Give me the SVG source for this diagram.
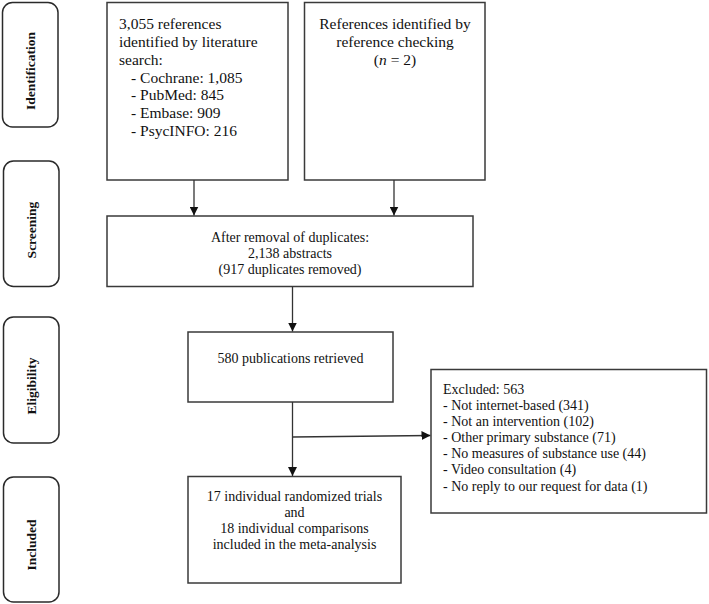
<svg xmlns="http://www.w3.org/2000/svg" width="709" height="604" viewBox="0 0 709 604">
<style>
.box{fill:#fff;stroke:#3a3a3a;stroke-width:1.5}
.side{fill:#fff;stroke:#2a2a2a;stroke-width:1.5}
.t{font-family:"Liberation Serif","Times New Roman",serif;font-size:15.5px;fill:#111}
.s{font-family:"Liberation Serif","Times New Roman",serif;font-size:14px;fill:#111}
.lab{font-family:"Liberation Serif","Times New Roman",serif;font-size:13.5px;font-weight:bold;fill:#111;text-anchor:middle;dominant-baseline:central}
.c{text-anchor:middle}
.ln{stroke:#333;stroke-width:1.3;fill:none}
</style>
<defs>
<marker id="ah" viewBox="0 0 10 10" refX="10" refY="5" markerWidth="9" markerHeight="9" orient="auto" markerUnits="userSpaceOnUse">
<path d="M0,0 L10,5 L0,10 Z" fill="#111"/>
</marker>
</defs>
<rect width="709" height="604" fill="#fff"/>
<g id="stage-identification"><rect class="side" x="2.5" y="2.5" width="55.5" height="124.5" rx="10"/><text class="lab" transform="translate(30,71) rotate(-90)">Identification</text></g>
<g id="stage-screening"><rect class="side" x="3.5" y="161" width="55.5" height="125.5" rx="10"/><text class="lab" transform="translate(31,230) rotate(-90)">Screening</text></g>
<g id="stage-eligibility"><rect class="side" x="3.5" y="317" width="55.5" height="126" rx="10"/><text class="lab" transform="translate(31,386) rotate(-90)">Eligibility</text></g>
<g id="stage-included"><rect class="side" x="3.5" y="477" width="55.5" height="125" rx="10"/><text class="lab" transform="translate(31,545) rotate(-90)">Included</text></g>

<g id="lit-search"><rect class="box" x="107" y="2.5" width="181" height="177.5"/>
<text class="t" x="119" y="29">3,055 references</text>
<text class="t" x="119" y="47">identified by literature</text>
<text class="t" x="119" y="64.5">search:</text>
<text class="t" x="131" y="82.5">- Cochrane: 1,085</text>
<text class="t" x="131" y="100">- PubMed: 845</text>
<text class="t" x="131" y="118">- Embase: 909</text>
<text class="t" x="131" y="136">- PsycINFO: 216</text></g>

<g id="ref-check"><rect class="box" x="304.5" y="2.5" width="180.5" height="177.5"/>
<text class="t c" x="395" y="29">References identified by</text>
<text class="t c" x="395" y="47">reference checking</text>
<text class="t c" x="395" y="64.5">(<tspan font-style="italic">n</tspan> = 2)</text></g>

<g id="dedup"><rect class="box" x="107" y="216" width="366" height="70.5"/>
<text class="s c" x="290" y="242">After removal of duplicates:</text>
<text class="s c" x="290" y="258">2,138 abstracts</text>
<text class="s c" x="290" y="274">(917 duplicates removed)</text></g>

<g id="retrieved"><rect class="box" x="188" y="332" width="205" height="70"/>
<text class="s c" x="290.5" y="363">580 publications retrieved</text></g>

<g id="excluded"><rect class="box" x="431" y="369.5" width="275.5" height="143.5"/>
<text class="s" x="443" y="394">Excluded: 563</text>
<text class="s" x="443" y="410">- Not internet-based (341)</text>
<text class="s" x="443" y="426">- Not an intervention (102)</text>
<text class="s" x="443" y="442">- Other primary substance (71)</text>
<text class="s" x="443" y="458">- No measures of substance use (44)</text>
<text class="s" x="443" y="474">- Video consultation (4)</text>
<text class="s" x="443" y="491">- No reply to our request for data (1)</text></g>

<g id="included"><rect class="box" x="188" y="476.5" width="213" height="106.5"/>
<text class="s c" x="294.5" y="501">17 individual randomized trials</text>
<text class="s c" x="294.5" y="517">and</text>
<text class="s c" x="294.5" y="533">18 individual comparisons</text>
<text class="s c" x="294.5" y="549">included in the meta-analysis</text></g>

<g id="connectors">
<line class="ln" x1="194" y1="180" x2="194" y2="215.5" marker-end="url(#ah)"/>
<line class="ln" x1="394" y1="180" x2="394" y2="215.5" marker-end="url(#ah)"/>
<line class="ln" x1="292.5" y1="286.5" x2="292.5" y2="331.5" marker-end="url(#ah)"/>
<line class="ln" x1="292.5" y1="402" x2="292.5" y2="476" marker-end="url(#ah)"/>
<line class="ln" x1="292.5" y1="437" x2="430.5" y2="435.5" marker-end="url(#ah)"/>
</g>
</svg>
